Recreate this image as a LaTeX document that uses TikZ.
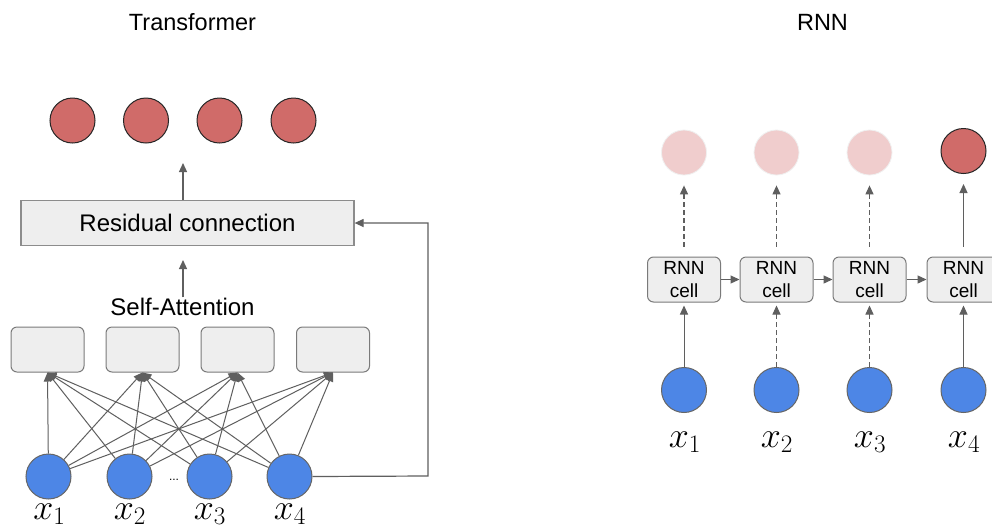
\RequirePackage{fix-cm}
\documentclass[tikz,border=0pt]{standalone}
\usepackage{fontspec}
\setmainfont{Liberation Sans}
\usetikzlibrary{arrows.meta}
\definecolor{redc}{HTML}{D06B69}
\definecolor{fadec}{HTML}{F0CDCD}
\definecolor{bluec}{HTML}{4D86E6}
\definecolor{boxf}{HTML}{EEEEEE}
\definecolor{boxd}{HTML}{7A7A7A}
\definecolor{arr}{HTML}{5F5F5F}
\tikzset{
  redcirc/.style={circle, draw=black!85, line width=1pt, fill=redc, minimum size=45pt, inner sep=0pt},
  fadecirc/.style={circle, draw=black!6, line width=0.8pt, fill=fadec, minimum size=45pt, inner sep=0pt},
  bluecirc/.style={circle, draw=black!60, line width=1pt, fill=bluec, minimum size=45pt, inner sep=0pt},
  attbox/.style={rectangle, rounded corners=6pt, draw=boxd, fill=boxf, line width=1pt, minimum width=73pt, minimum height=45pt, inner sep=0pt},
  cellbox/.style={attbox, align=center, font=\fontsize{19}{22.7}\selectfont},
  resbox/.style={rectangle, draw=black!45, fill=boxf, line width=1.2pt, minimum width=333pt, minimum height=45pt, font=\fontsize{24}{28}\selectfont},
  title/.style={font=\fontsize{23.5}{28}\selectfont, anchor=base, inner sep=0pt},
  xlab/.style={font=\fontsize{36}{40}\selectfont, anchor=base, inner sep=0pt},
  ar/.style={draw=arr, line width=1.2pt, -{Triangle[length=9pt,width=8pt]}},
  arthin/.style={draw=arr, line width=1pt, -{Triangle[length=9pt,width=7.5pt]}},
  ardash/.style={ar, dash pattern=on 5pt off 3pt},
}
\begin{document}
\begin{tikzpicture}[x=1pt,y=-1pt]
\useasboundingbox (0,0) rectangle (992,531);
\clip (0,0) rectangle (992,531);
\fill[white] (0,0) rectangle (992,531);

% ---------- Transformer ----------
\node[title] (tt) at (192.5,30) {Transformer};

\node[redcirc] (o1) at (72.5,120.5) {};
\node[redcirc] (o2) at (146,120.5) {};
\node[redcirc] (o3) at (219.5,120.5) {};
\node[redcirc] (o4) at (293.5,120.5) {};

\node[resbox] (res) at (187.5,223) {Residual connection};
\coordinate (rtop) at (183,163);
\draw[ar] (res.north -| rtop) -- (rtop);

\node[font=\fontsize{24}{28}\selectfont, anchor=base, inner sep=0pt] (sa) at (182.5,315) {Self-Attention};
\coordinate (satop) at (183,260);
\draw[ar] (sa.north -| satop) -- (satop);

\node[attbox] (a1) at (47.5,349.5) {};
\node[attbox] (a2) at (142.5,349.5) {};
\node[attbox] (a3) at (237.5,349.5) {};
\node[attbox] (a4) at (333,349.5) {};

\node[bluecirc] (b1) at (48.5,476.5) {};
\node[bluecirc] (b2) at (129.5,476.5) {};
\node[bluecirc] (b3) at (209.5,476.5) {};
\node[bluecirc] (b4) at (289.5,476.5) {};

\foreach \i in {1,2,3,4}{
  \foreach \j in {1,2,3,4}{
    \draw[arthin] (b\i) -- (a\j.south);
  }
}

\node[font=\fontsize{12}{14}\selectfont, inner sep=0pt] (dots) at (174,480) {...};

\node[xlab] (l1) at (49.5,519) {$x_1$};
\node[xlab] (l2) at (130,519) {$x_2$};
\node[xlab] (l3) at (210,519) {$x_3$};
\node[xlab] (l4) at (290,519) {$x_4$};

\coordinate (rc) at (428,476);
\draw[ar] (b4.east) -- (rc) |- (res.east);

% ---------- RNN ----------
\node[title] (rt) at (822.5,30) {RNN};

\node[fadecirc] (f1) at (684,152.5) {};
\node[fadecirc] (f2) at (776.5,152.5) {};
\node[fadecirc] (f3) at (869.5,152.5) {};
\node[redcirc]  (f4) at (963.5,151) {};

\node[cellbox] (c1) at (684,279.5) {RNN\\cell};
\node[cellbox] (c2) at (776.5,279.5) {RNN\\cell};
\node[cellbox] (c3) at (869.5,279.5) {RNN\\cell};
\node[cellbox] (c4) at (963.5,279.5) {RNN\\cell};

\node[bluecirc] (r1) at (684,390) {};
\node[bluecirc] (r2) at (776.5,390) {};
\node[bluecirc] (r3) at (869.5,390) {};
\node[bluecirc] (r4) at (963.5,390) {};

\node[xlab] (q1) at (685,447) {$x_1$};
\node[xlab] (q2) at (777,447) {$x_2$};
\node[xlab] (q3) at (870,447) {$x_3$};
\node[xlab] (q4) at (964,447) {$x_4$};

\draw[ardash, shorten <=10pt, shorten >=10pt] (c1.north) -- (f1.south);
\draw[ardash, shorten <=10pt, shorten >=10pt] (c2.north) -- (f2.south);
\draw[ardash, shorten <=10pt, shorten >=10pt] (c3.north) -- (f3.south);
\draw[ar, shorten <=10pt, shorten >=10pt] (c4.north) -- (f4.south);

\draw[ar, line width=1pt, shorten >=3pt] (r1.north) -- (c1.south);
\draw[ardash, line width=1pt, shorten >=3pt] (r2.north) -- (c2.south);
\draw[ardash, line width=1pt, shorten >=3pt] (r3.north) -- (c3.south);
\draw[ar, line width=1pt, shorten >=3pt] (r4.north) -- (c4.south);

\draw[ar] (c1.east) -- (c2.west);
\draw[ar] (c2.east) -- (c3.west);
\draw[ar] (c3.east) -- (c4.west);
\end{tikzpicture}
\end{document}
